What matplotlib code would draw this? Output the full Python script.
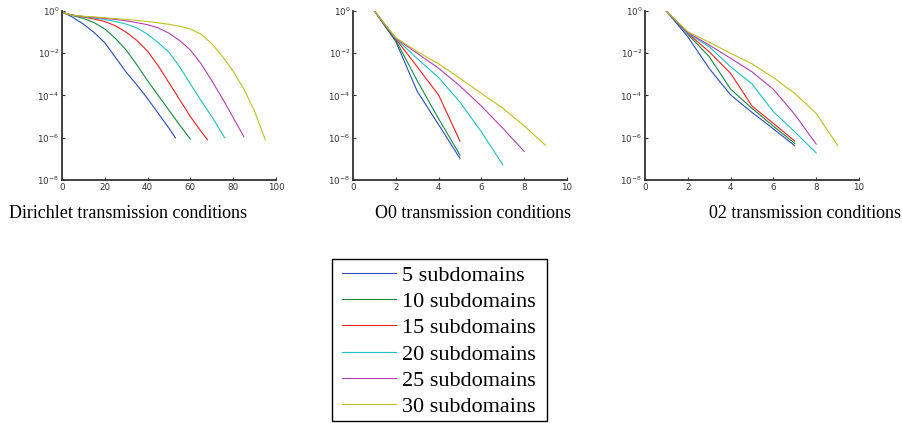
import numpy as np
import matplotlib
matplotlib.use("Agg")
import matplotlib.pyplot as plt
from matplotlib.patches import Rectangle
from matplotlib.ticker import LogLocator, NullLocator

# ==============================
#  Data (log10 of residual)
# ==============================
labels = ["5 subdomains", "10 subdomains", "15 subdomains",
          "20 subdomains", "25 subdomains", "30 subdomains"]
colors = ["#2a4bb5", "#178a3c", "#f02020", "#22bfc6", "#b040b0", "#c0c020"]

# Dirichlet transmission conditions
dir_it = [
    [0, 1, 5, 10, 15, 20, 25, 30, 35, 40, 45, 50, 53],
    [0, 1, 5, 10, 15, 20, 25, 30, 35, 40, 45, 50, 55, 60],
    [0, 1, 5, 10, 15, 20, 25, 30, 35, 40, 45, 50, 55, 60, 65, 68],
    [0, 1, 5, 10, 15, 20, 25, 30, 35, 40, 45, 50, 55, 60, 65, 70, 76],
    [0, 1, 5, 10, 15, 20, 25, 30, 35, 40, 45, 50, 55, 60, 65, 70, 75, 80, 85],
    [0, 1, 5, 10, 15, 20, 25, 30, 35, 40, 45, 50, 55, 60, 65, 70, 75, 80, 85, 90, 95],
]
dir_log = [
    [0, -0.08, -0.3, -0.62, -1.02, -1.5, -2.2, -2.9, -3.5, -4.15, -4.85, -5.55, -6.0],
    [0, -0.1, -0.22, -0.35, -0.55, -0.85, -1.3, -1.85, -2.55, -3.3, -4.0, -4.7, -5.4, -6.07],
    [0, -0.1, -0.2, -0.28, -0.38, -0.5, -0.7, -1.0, -1.4, -1.9, -2.6, -3.4, -4.2, -5.0, -5.7, -6.1],
    [0, -0.1, -0.2, -0.27, -0.33, -0.4, -0.5, -0.62, -0.8, -1.1, -1.5, -1.95, -2.65, -3.45, -4.25, -5.0, -6.0],
    [0, -0.1, -0.2, -0.26, -0.3, -0.35, -0.4, -0.47, -0.55, -0.65, -0.8, -1.05, -1.4, -1.85, -2.5, -3.3, -4.15, -5.05, -5.95],
    [0, -0.1, -0.2, -0.25, -0.28, -0.32, -0.36, -0.4, -0.44, -0.5, -0.56, -0.63, -0.72, -0.85, -1.1, -1.55, -2.15, -2.85, -3.7, -4.75, -6.1],
]

# O0 transmission conditions
o0_log = [
    [0, -1.45, -3.8, -5.38, -6.98],
    [0, -1.38, -3.3, -5.1, -6.82],
    [0, -1.32, -2.64, -3.98, -6.16],
    [0, -1.3, -2.25, -3.15, -4.32, -5.72, -7.28],
    [0, -1.3, -2.0, -2.71, -3.55, -4.5, -5.55, -6.65],
    [0, -1.27, -1.92, -2.5, -3.19, -3.9, -4.6, -5.44, -6.36],
]

# 02 transmission conditions
o2_log = [
    [0, -1.22, -2.72, -3.97, -4.8, -5.58, -6.38],
    [0, -1.1, -2.16, -3.7, -4.61, -5.45, -6.27],
    [0, -1.06, -1.93, -2.95, -4.5, -5.32, -6.16],
    [0, -1.05, -1.69, -2.64, -3.45, -4.77, -5.72, -6.72],
    [0, -1.02, -1.61, -2.24, -2.88, -3.71, -4.9, -6.3],
    [0, -0.98, -1.48, -2.0, -2.5, -3.15, -3.9, -4.85, -6.36],
]

captions = ["Dirichlet transmission conditions",
            "O0 transmission conditions",
            "02 transmission conditions"]

# ==============================
#  Figure
# ==============================
fig = plt.figure(figsize=(9.02, 4.23), dpi=100)
plt.rcParams['mathtext.fontset'] = 'dejavusans'

W, H = 902.0, 423.0
lefts = [62, 353, 645]
ax_w, ax_top, ax_bot = 214, 11, 180
axes = []
for l in lefts:
    ax = fig.add_axes([l / W, 1 - ax_bot / H, ax_w / W, (ax_bot - ax_top) / H])
    axes.append(ax)

series = [
    (dir_it, dir_log),
    ([list(range(1, len(v) + 1)) for v in o0_log], o0_log),
    ([list(range(1, len(v) + 1)) for v in o2_log], o2_log),
]
xlims = [(0, 100), (0, 10), (0, 10)]
xticks = [np.arange(0, 101, 20), np.arange(0, 11, 2), np.arange(0, 11, 2)]

for ax, (its, logs), xl, xt in zip(axes, series, xlims, xticks):
    for it, lv, c, lab in zip(its, logs, colors, labels):
        ax.semilogy(it, 10.0 ** np.array(lv), color=c, lw=0.8, label=lab)
    ax.set_xlim(*xl)
    ax.set_ylim(1e-8, 1)
    ax.set_xticks(xt)
    ax.yaxis.set_major_locator(LogLocator(base=100.0))
    ax.yaxis.set_minor_locator(NullLocator())
    for s in ['top', 'right']:
        ax.spines[s].set_visible(False)
    for s in ['left', 'bottom']:
        ax.spines[s].set_linewidth(1.3)
        ax.spines[s].set_color('#333333')
    ax.tick_params(direction='in', length=2.5, width=0.8, labelsize=6.3,
                   colors='#333333', pad=2)

# captions under each panel
cap_y = 1 - 213 / H
fig.text(9 / W, cap_y, captions[0], ha='left', va='center',
         family='Liberation Serif', fontsize=13)
fig.text(473 / W, cap_y, captions[1], ha='center', va='center',
         family='Liberation Serif', fontsize=13)
fig.text(901 / W, cap_y, captions[2], ha='right', va='center',
         family='Liberation Serif', fontsize=13)

# legend (frame drawn separately so the margins match the original box)
handles, labs = axes[0].get_legend_handles_labels()
leg = fig.legend(handles, labs, loc='upper left',
                 bbox_to_anchor=(342.3 / W, 1 - 265 / H),
                 prop={'family': 'Liberation Serif', 'size': 16},
                 frameon=False, handlelength=2.4, handletextpad=0.27,
                 labelspacing=0.26, borderpad=0, borderaxespad=0)
fig.add_artist(Rectangle((331.7 / W, 1 - 421 / H), 215 / W, 162 / H,
                         transform=fig.transFigure, fill=False,
                         edgecolor='black', linewidth=1.0))

fig.savefig("out.png", dpi=100)
